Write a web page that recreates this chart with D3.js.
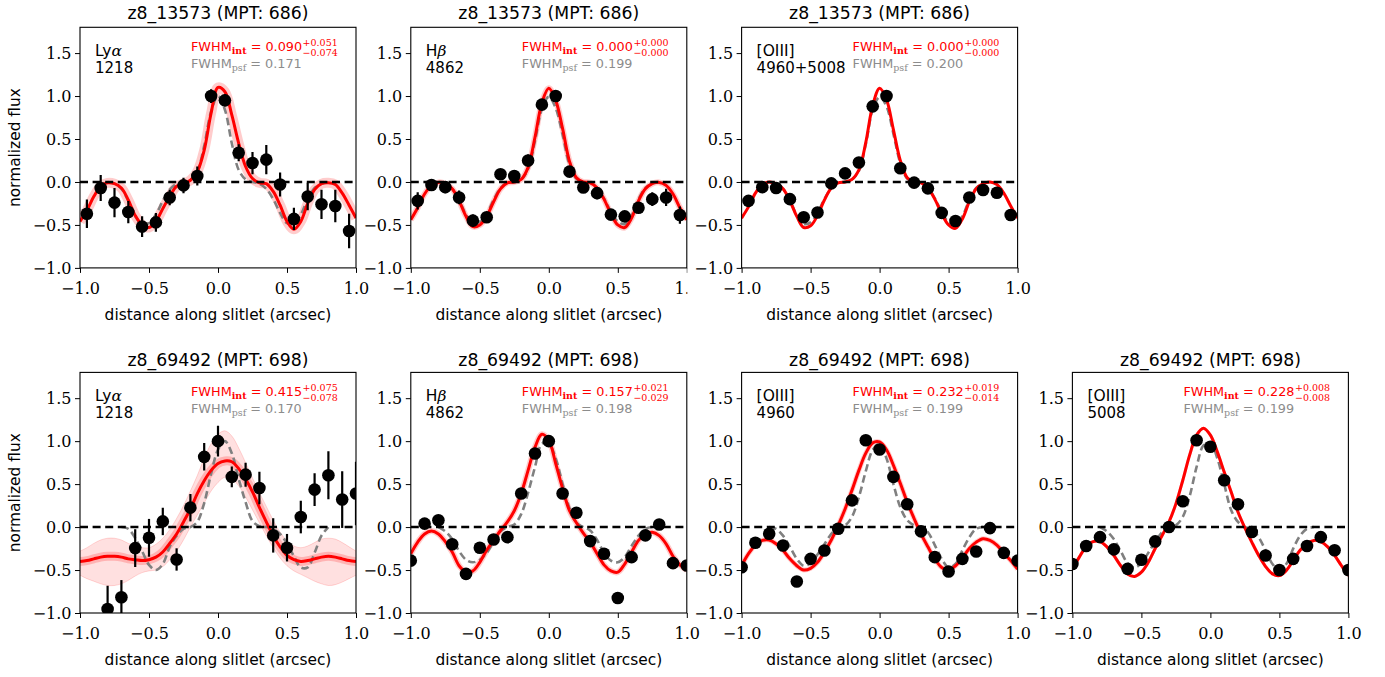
<!DOCTYPE html>
<html>
<head>
<meta charset="utf-8">
<script src="https://cdn.jsdelivr.net/npm/d3@7"></script>
<style>
  body { margin: 0; background: #fff; }
  svg { display: block; }
</style>
</head>
<body>
<svg id="chart"></svg>
<script>
// model grid shared by every curve (arcsec)
const grid = [-1.00,-0.95,-0.90,-0.85,-0.80,-0.75,-0.70,-0.65,-0.60,-0.55,-0.50,-0.45,-0.40,-0.35,-0.30,-0.25,-0.20,-0.15,-0.10,-0.05,
  0.00,0.05,0.10,0.15,0.20,0.25,0.30,0.35,0.40,0.45,0.50,0.55,0.60,0.65,0.70,0.75,0.80,0.85,0.90,0.95,1.00];

const xTicks = [-1, -0.5, 0, 0.5, 1];
const yTicks = [-1, -0.5, 0, 0.5, 1, 1.5];
const titleTop = "z8_13573 (MPT: 686)";
const titleBottom = "z8_69492 (MPT: 698)";

// positions of the data points
const xTop = [-0.95,-0.85,-0.75,-0.65,-0.55,-0.45,-0.35,-0.25,-0.15,-0.05,0.05,0.15,0.25,0.35,0.45,0.55,0.65,0.75,0.85,0.95];
const xBottom = [-1.0,-0.9,-0.8,-0.7,-0.6,-0.5,-0.4,-0.3,-0.2,-0.1,0.0,0.1,0.2,0.3,0.4,0.5,0.6,0.7,0.8,0.9,1.0];
const xLyaBottom = [-0.8,-0.7,-0.6,-0.5,-0.4,-0.3,-0.2,-0.1,0.0,0.1,0.2,0.3,0.4,0.5,0.6,0.7,0.8,0.9,1.0];

// z8_13573 Lya
const lyaTopFlux = [-0.37,-0.07,-0.24,-0.35,-0.52,-0.47,-0.18,-0.04,0.07,1.0,0.95,0.34,0.22,0.26,-0.03,-0.43,-0.17,-0.26,-0.28,-0.57];
const lyaTopErr = [0.165,0.15,0.17,0.13,0.12,0.11,0.09,0.09,0.11,0.08,0.07,0.1,0.13,0.17,0.14,0.13,0.16,0.17,0.19,0.2];
const lyaTopModel = [-0.46,-0.33,-0.17,-0.05,-0.01,-0.02,-0.07,-0.21,-0.39,-0.50,-0.53,-0.46,-0.31,-0.17,-0.05,-0.02,0.02,0.12,0.37,0.80,
  1.10,1.05,0.78,0.45,0.18,0.04,-0.01,-0.02,-0.11,-0.27,-0.46,-0.55,-0.46,-0.25,-0.09,-0.02,-0.01,-0.03,-0.13,-0.27,-0.42];
const lyaTopPsf = [null,null,null,null,0,-0.02,-0.08,-0.22,-0.40,-0.49,-0.48,-0.38,-0.22,-0.09,-0.02,0,0.02,0.12,0.42,0.82,
  1.0,0.84,0.45,0.14,0.03,0,-0.02,-0.08,-0.2,-0.36,-0.48,-0.49,-0.38,-0.2,-0.07,-0.02,0,null,null,null,null];

// z8_13573 Hb
const hbTopFlux = [-0.22,-0.035,-0.06,-0.18,-0.45,-0.41,0.09,0.07,0.25,0.9,1.0,0.12,-0.065,-0.13,-0.38,-0.40,-0.30,-0.20,-0.18,-0.385];
const hbTopErr = [0.1,0.06,0.07,0.08,0.07,0.05,0.03,0.03,0.07,0.05,0.05,0.05,0.05,0.07,0.06,0.06,0.06,0.08,0.1,0.1];
const hbTopModel = [-0.44,-0.30,-0.14,-0.04,-0.005,-0.02,-0.08,-0.22,-0.40,-0.52,-0.50,-0.40,-0.23,-0.08,-0.01,0,0.03,0.17,0.52,0.92,
  1.09,0.95,0.62,0.24,0.05,0,-0.01,-0.07,-0.2,-0.37,-0.5,-0.53,-0.42,-0.22,-0.08,-0.02,-0.005,-0.04,-0.14,-0.30,-0.44];
const hbTopPsf = [null,null,null,null,0,-0.02,-0.08,-0.21,-0.38,-0.48,-0.46,-0.37,-0.21,-0.07,-0.01,0,0.03,0.15,0.48,0.85,
  0.99,0.86,0.55,0.2,0.04,0,-0.01,-0.07,-0.19,-0.35,-0.46,-0.49,-0.39,-0.2,-0.07,-0.02,0,null,null,null,null];

// z8_13573 [OIII] 4960+5008
const oiiiTopFlux = [-0.22,-0.06,-0.07,-0.2,-0.41,-0.355,-0.016,0.10,0.226,0.88,1.0,0.16,-0.008,-0.074,-0.36,-0.455,-0.18,-0.093,-0.125,-0.385];
const oiiiTopErr = [0.02,0.02,0.02,0.02,0.02,0.02,0.02,0.02,0.02,0.02,0.02,0.02,0.02,0.02,0.02,0.02,0.02,0.02,0.02,0.02];
const oiiiTopModel = [-0.42,-0.29,-0.13,-0.03,0,-0.02,-0.08,-0.22,-0.40,-0.53,-0.51,-0.39,-0.21,-0.07,-0.01,0,0.03,0.14,0.46,0.89,
  1.09,0.96,0.61,0.25,0.05,0,-0.01,-0.07,-0.2,-0.37,-0.5,-0.54,-0.43,-0.23,-0.08,-0.02,0,-0.03,-0.13,-0.28,-0.42];
const oiiiTopPsf = [null,null,null,null,0,-0.02,-0.08,-0.21,-0.39,-0.49,-0.47,-0.36,-0.2,-0.07,-0.01,0,0.03,0.13,0.44,0.84,
  0.99,0.88,0.56,0.22,0.04,0,-0.01,-0.07,-0.19,-0.35,-0.47,-0.50,-0.40,-0.21,-0.07,-0.02,0,null,null,null,null];

// z8_69492 Lya
const lyaBotFlux = [-0.953,-0.817,-0.245,-0.125,0.066,-0.377,0.226,0.817,1.0,0.584,0.61,0.455,-0.097,-0.24,0.117,0.436,0.603,0.32,0.39];
const lyaBotErr = [0.27,0.2,0.22,0.22,0.16,0.13,0.16,0.16,0.18,0.12,0.14,0.19,0.2,0.16,0.19,0.19,0.28,0.33,0.37];
const lyaBotModel = [-0.40,-0.39,-0.37,-0.35,-0.34,-0.34,-0.35,-0.37,-0.38,-0.39,-0.38,-0.35,-0.29,-0.19,-0.08,0.06,0.21,0.39,0.54,0.66,
  0.74,0.77,0.76,0.68,0.56,0.41,0.23,0.06,-0.10,-0.23,-0.33,-0.38,-0.40,-0.39,-0.37,-0.35,-0.34,-0.35,-0.37,-0.39,-0.40];
const lyaBotUpper = [-0.28,-0.24,-0.19,-0.15,-0.13,-0.13,-0.15,-0.19,-0.22,-0.24,-0.24,-0.20,-0.13,-0.03,0.10,0.25,0.42,0.60,0.80,0.97,
  1.08,1.12,1.06,0.92,0.75,0.57,0.40,0.24,0.08,-0.06,-0.16,-0.22,-0.24,-0.22,-0.18,-0.14,-0.13,-0.14,-0.18,-0.23,-0.28];
const lyaBotLower = [-0.56,-0.60,-0.63,-0.66,-0.68,-0.68,-0.66,-0.62,-0.57,-0.53,-0.51,-0.50,-0.46,-0.38,-0.28,-0.15,0.00,0.14,0.28,0.42,
  0.52,0.58,0.56,0.48,0.35,0.20,0.05,-0.10,-0.24,-0.36,-0.45,-0.51,-0.55,-0.59,-0.63,-0.66,-0.68,-0.67,-0.64,-0.60,-0.56];
const lyaBotPsf = [null,null,null,null,null,null,0,-0.02,-0.13,-0.28,-0.44,-0.5,-0.43,-0.23,-0.1,-0.02,0.0,0.06,0.28,0.62,
  0.9,1.0,0.86,0.56,0.29,0.07,0.01,0.0,-0.02,-0.08,-0.19,-0.34,-0.47,-0.47,-0.3,-0.1,0.0,null,null,null,null];

// z8_69492 Hb
const hbBotFlux = [-0.39,0.04,0.08,-0.2,-0.545,-0.24,-0.144,-0.117,0.39,0.856,1.0,0.39,0.167,-0.163,-0.31,-0.825,-0.35,-0.097,0.03,-0.42,-0.447];
const hbBotErr = [0.03,0.03,0.03,0.03,0.03,0.03,0.03,0.03,0.03,0.03,0.03,0.03,0.03,0.03,0.03,0.03,0.03,0.03,0.03,0.03,0.03];
const hbBotModel = [-0.31,-0.175,-0.08,-0.047,-0.08,-0.17,-0.29,-0.45,-0.525,-0.51,-0.41,-0.27,-0.155,-0.04,0.06,0.19,0.39,0.66,0.93,1.08,
  1.01,0.74,0.45,0.19,0.05,-0.07,-0.175,-0.31,-0.44,-0.51,-0.525,-0.43,-0.29,-0.155,-0.08,-0.06,-0.1,-0.195,-0.34,-0.44,-0.5];
const hbBotPsf = [null,null,null,null,0,-0.05,-0.14,-0.28,-0.38,-0.41,-0.38,-0.3,-0.17,-0.05,0,0.03,0.15,0.4,0.7,0.97,
  0.97,0.8,0.5,0.22,0.05,0,-0.04,-0.15,-0.3,-0.39,-0.41,-0.35,-0.22,-0.1,-0.02,0,null,null,null,null,null];

// z8_69492 [OIII] 4960
const o4960Flux = [-0.467,-0.183,-0.078,-0.214,-0.634,-0.37,-0.272,-0.02,0.311,1.01,0.903,0.584,0.265,-0.05,-0.35,-0.517,-0.37,-0.284,-0.012,-0.3,-0.39];
const o4960Err = [0.02,0.02,0.02,0.02,0.02,0.02,0.02,0.02,0.02,0.02,0.02,0.02,0.02,0.02,0.02,0.02,0.02,0.02,0.02,0.02,0.02];
const o4960Model = [-0.45,-0.31,-0.21,-0.155,-0.15,-0.195,-0.27,-0.37,-0.45,-0.50,-0.48,-0.41,-0.29,-0.15,0.02,0.21,0.43,0.66,0.86,0.98,
  0.99,0.9,0.72,0.51,0.29,0.1,-0.08,-0.23,-0.37,-0.47,-0.5,-0.45,-0.36,-0.25,-0.175,-0.135,-0.155,-0.21,-0.30,-0.39,-0.49];
const o4960Psf = [null,null,null,null,0,-0.02,-0.1,-0.23,-0.37,-0.45,-0.42,-0.32,-0.2,-0.08,0,0.02,0.12,0.35,0.65,0.9,
  0.97,0.8,0.5,0.23,0.08,0.02,0,-0.06,-0.21,-0.37,-0.47,-0.43,-0.27,-0.12,-0.02,0,null,null,null,null,null];

// z8_69492 [OIII] 5008
const o5008Flux = [-0.43,-0.22,-0.117,-0.26,-0.486,-0.38,-0.167,0.0,0.30,1.01,0.934,0.545,0.265,-0.058,-0.33,-0.5,-0.37,-0.22,-0.117,-0.27,-0.5];
const o5008Err = [0.02,0.02,0.02,0.02,0.02,0.02,0.02,0.02,0.02,0.02,0.02,0.02,0.02,0.02,0.02,0.02,0.02,0.02,0.02,0.02,0.02];
const o5008Model = [-0.49,-0.35,-0.23,-0.17,-0.17,-0.23,-0.33,-0.45,-0.545,-0.575,-0.525,-0.41,-0.25,-0.1,0.06,0.27,0.545,0.84,1.07,1.15,
  1.07,0.875,0.64,0.41,0.175,-0.01,-0.175,-0.33,-0.46,-0.545,-0.565,-0.505,-0.39,-0.27,-0.195,-0.155,-0.17,-0.23,-0.33,-0.45,-0.565];
const o5008Psf = [null,null,null,null,0,-0.05,-0.14,-0.28,-0.42,-0.47,-0.42,-0.3,-0.17,-0.06,-0.01,0.02,0.12,0.36,0.7,0.95,
  0.98,0.8,0.5,0.2,0.06,0,-0.02,-0.12,-0.27,-0.43,-0.5,-0.43,-0.25,-0.1,-0.02,0,null,null,null,null,null];

const panels = [
  { row: 0, col: 0, title: titleTop, ion: ["Ly", "α"], wave: "1218", fwhm: ["0.090", "+0.051", "−0.074"], psfFwhm: "0.171",
    px: xTop, py: lyaTopFlux, pe: lyaTopErr, model: lyaTopModel, psf: lyaTopPsf, halo: 10, ylabel: true },
  { row: 0, col: 1, title: titleTop, ion: ["H", "β"], wave: "4862", fwhm: ["0.000", "+0.000", "−0.000"], psfFwhm: "0.199",
    px: xTop, py: hbTopFlux, pe: hbTopErr, model: hbTopModel, psf: hbTopPsf, halo: 6, cutLastLabel: true },
  { row: 0, col: 2, title: titleTop, ion: ["[OIII]", ""], wave: "4960+5008", fwhm: ["0.000", "+0.000", "−0.000"], psfFwhm: "0.200",
    px: xTop, py: oiiiTopFlux, pe: oiiiTopErr, model: oiiiTopModel, psf: oiiiTopPsf, halo: 0 },
  { row: 1, col: 0, title: titleBottom, ion: ["Ly", "α"], wave: "1218", fwhm: ["0.415", "+0.075", "−0.078"], psfFwhm: "0.170",
    px: xLyaBottom, py: lyaBotFlux, pe: lyaBotErr, model: lyaBotModel, psf: lyaBotPsf, halo: 9,
    upper: lyaBotUpper, lower: lyaBotLower, ylabel: true },
  { row: 1, col: 1, title: titleBottom, ion: ["H", "β"], wave: "4862", fwhm: ["0.157", "+0.021", "−0.029"], psfFwhm: "0.198",
    px: xBottom, py: hbBotFlux, pe: hbBotErr, model: hbBotModel, psf: hbBotPsf, halo: 6 },
  { row: 1, col: 2, title: titleBottom, ion: ["[OIII]", ""], wave: "4960", fwhm: ["0.232", "+0.019", "−0.014"], psfFwhm: "0.199",
    px: xBottom, py: o4960Flux, pe: o4960Err, model: o4960Model, psf: o4960Psf, halo: 5 },
  { row: 1, col: 3, title: titleBottom, ion: ["[OIII]", ""], wave: "5008", fwhm: ["0.228", "+0.008", "−0.008"], psfFwhm: "0.199",
    px: xBottom, py: o5008Flux, pe: o5008Err, model: o5008Model, psf: o5008Psf, halo: 3 },
];

const layout = {
  left0: 80,
  colStep: 330.8,
  width: 276,
  height: 240.6,
  rowTop: [27.3, 372.4],
  titleBase: [19, 366],
};
const sans = "'DejaVu Sans', sans-serif";
const serif = "'DejaVu Serif', serif";
const fmt = d3.format(".1f");

const svg = d3.select("#chart").attr("width", 1385).attr("height", 677);

function drawPanel(p, i) {
  const { width, height } = layout;
  const left = layout.left0 + p.col * layout.colStep;
  const top = layout.rowTop[p.row];
  const x = d3.scaleLinear().domain([-1, 1]).range([left, left + width]);
  const y = d3.scaleLinear().domain([-1, 1.8]).range([top + height, top]);
  const g = svg.append("g").attr("class", "panel");

  const clipId = `clip-${i}`;
  g.append("clipPath").attr("id", clipId)
    .append("rect").attr("x", left).attr("y", top).attr("width", width).attr("height", height);
  const plot = g.append("g").attr("clip-path", `url(#${clipId})`);

  const pairs = (vals) => grid.map((gx, k) => [gx, vals[k]]);
  const line = d3.line()
    .defined((d) => d[1] !== null)
    .x((d) => x(d[0]))
    .y((d) => y(d[1]))
    .curve(d3.curveCatmullRom);

  // spread of the fitted models
  if (p.upper) {
    const band = grid.map((gx, k) => [gx, p.lower[k], p.upper[k]]);
    plot.append("path").datum(band)
      .attr("d", d3.area().x((d) => x(d[0])).y0((d) => y(d[1])).y1((d) => y(d[2])).curve(d3.curveCatmullRom))
      .attr("fill", "red").attr("fill-opacity", 0.12);
    [p.upper, p.lower].forEach((edge) => {
      plot.append("path").datum(pairs(edge)).attr("d", line)
        .attr("fill", "none").attr("stroke", "red").attr("stroke-opacity", 0.15).attr("stroke-width", 1);
    });
  }
  if (p.halo > 0) {
    plot.append("path").datum(pairs(p.model)).attr("d", line)
      .attr("fill", "none").attr("stroke", "red").attr("stroke-opacity", 0.2)
      .attr("stroke-width", p.halo).attr("stroke-linejoin", "round");
  }

  plot.append("path").datum(pairs(p.psf)).attr("d", line)
    .attr("fill", "none").attr("stroke", "#808080").attr("stroke-width", 2.6)
    .attr("stroke-dasharray", "7.5,4");

  plot.append("path").datum(pairs(p.model)).attr("d", line)
    .attr("fill", "none").attr("stroke", "red").attr("stroke-width", 3);

  plot.append("line")
    .attr("x1", x(-1)).attr("x2", x(1)).attr("y1", y(0)).attr("y2", y(0))
    .attr("stroke", "black").attr("stroke-width", 2.6).attr("stroke-dasharray", "8,4.6");

  const pts = p.px.map((px, k) => ({ x: px, y: p.py[k], e: p.pe[k] }));
  plot.selectAll(".err").data(pts).join("line").attr("class", "err")
    .attr("x1", (d) => x(d.x)).attr("x2", (d) => x(d.x))
    .attr("y1", (d) => y(d.y - d.e)).attr("y2", (d) => y(d.y + d.e))
    .attr("stroke", "black").attr("stroke-width", 2.2);
  plot.selectAll(".dot").data(pts).join("circle").attr("class", "dot")
    .attr("cx", (d) => x(d.x)).attr("cy", (d) => y(d.y)).attr("r", 6.3).attr("fill", "black");

  // axes
  const xAxis = g.append("g").attr("transform", `translate(0, ${top + height})`)
    .call(d3.axisBottom(x).tickValues(xTicks).tickSize(5).tickPadding(9.5).tickFormat(fmt));
  const yAxis = g.append("g").attr("transform", `translate(${left}, 0)`)
    .call(d3.axisLeft(y).tickValues(yTicks).tickSize(5).tickPadding(3.5).tickFormat(fmt));
  [xAxis, yAxis].forEach((ax) => {
    ax.select(".domain").remove();
    ax.attr("font-family", null).attr("font-size", null);
    ax.selectAll("text").style("font-family", serif).style("font-size", "16px");
    ax.selectAll("line").attr("stroke-width", 1);
  });
  if (p.cutLastLabel) {
    // the neighbouring axes hides the last digit of this label in the original
    const cutId = `cut-${i}`;
    g.append("clipPath").attr("id", cutId)
      .append("rect").attr("x", left - 40).attr("y", 0).attr("width", width + 40.5).attr("height", 40);
    xAxis.attr("clip-path", `url(#${cutId})`);
  }

  g.append("rect")
    .attr("x", left).attr("y", top).attr("width", width).attr("height", height)
    .attr("fill", "none").attr("stroke", "black").attr("stroke-width", 1.1);

  // labels
  g.append("text")
    .attr("x", left + width / 2).attr("y", layout.titleBase[p.row])
    .attr("text-anchor", "middle").style("font-family", sans).style("font-size", "17.3px")
    .text(p.title);
  g.append("text")
    .attr("x", left + width / 2).attr("y", top + height + 52)
    .attr("text-anchor", "middle").style("font-family", sans).style("font-size", "15.4px")
    .text("distance along slitlet (arcsec)");
  if (p.ylabel) {
    g.append("text")
      .attr("transform", `translate(20, ${top + height / 2}) rotate(-90)`)
      .attr("text-anchor", "middle").style("font-family", sans).style("font-size", "15.4px")
      .text("normalized flux");
  }

  const ion = g.append("text").attr("x", left + 15).attr("y", top + 29)
    .style("font-family", sans).style("font-size", "15.5px");
  ion.append("tspan").text(p.ion[0]);
  if (p.ion[1]) ion.append("tspan").style("font-family", serif).style("font-style", "italic").text(p.ion[1]);
  g.append("text").attr("x", left + 15).attr("y", top + 45.5)
    .style("font-family", sans).style("font-size", "15px").text(p.wave);

  fwhmText(g, left + 111, top + 24, "int", p.fwhm, "red", "bold");
  fwhmText(g, left + 111, top + 41, "psf", [p.psfFwhm], "#8c8c8c", "normal");
}

function fwhmText(g, x0, yb, sub, vals, color, weight) {
  const t = g.append("text").attr("x", x0).attr("y", yb).attr("fill", color)
    .style("font-family", sans).style("font-size", "12.8px");
  t.append("tspan").text("FWHM");
  t.append("tspan").attr("dy", 2.8).style("font-family", serif).style("font-size", "9.5px")
    .style("font-weight", weight).text(sub);
  t.append("tspan").attr("dy", -2.8).text(" = " + vals[0]);
  if (vals.length > 1) {
    const w = t.node().getComputedTextLength();
    [[vals[1], -5.5], [vals[2], 4.5]].forEach(([s, dy]) => {
      g.append("text").attr("x", x0 + w + 0.5).attr("y", yb + dy).attr("fill", color)
        .style("font-family", serif).style("font-size", "9.5px").text(s);
    });
  }
}

panels.forEach(drawPanel);
</script>
</body>
</html>
